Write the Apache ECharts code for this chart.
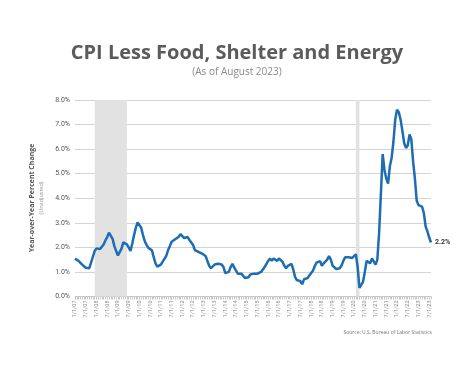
<!DOCTYPE html>
<html>
<head>
<meta charset="utf-8">
<script src="https://cdn.jsdelivr.net/npm/echarts@6/dist/echarts.min.js"></script>
<style>
html,body{margin:0;padding:0;background:#fff;}
#c{width:474px;height:382px;}
</style>
</head>
<body>
<div id="c"></div>
<script>
// Monthly categories Jan 2007 - Aug 2023
const startYear = 2007, startMonth = 1, monthCount = 200;
const categories = [];
for (let k = 0; k < monthCount; k++) {
  const m = (startMonth - 1 + k) % 12 + 1;
  const y = startYear + Math.floor((startMonth - 1 + k) / 12);
  categories.push(m + '/1/' + String(y % 100).padStart(2, '0'));
}

// Year-over-year percent change
const v2007 = [1.54,1.52,1.45,1.38,1.30,1.22,1.17,1.25,1.15,1.18,1.62,1.85];
const v2008 = [1.96,1.93,1.93,1.97,2.12,2.28,2.42,2.60,2.55,2.35,2.05,1.85];
const v2009 = [1.67,1.68,1.95,2.20,2.17,2.12,2.00,1.85,2.15,2.50,2.80,3.02];
const v2010 = [3.00,2.80,2.50,2.25,2.10,1.98,1.92,1.88,1.60,1.35,1.22,1.15];
const v2011 = [1.30,1.42,1.48,1.65,1.88,2.05,2.23,2.27,2.33,2.38,2.43,2.54];
const v2012 = [2.52,2.38,2.35,2.42,2.30,2.23,2.10,1.89,1.83,1.82,1.76,1.75];
const v2013 = [1.78,1.65,1.45,1.25,1.15,1.22,1.30,1.33,1.33,1.32,1.30,1.20];
const v2014 = [0.95,0.87,1.00,1.20,1.33,1.30,1.05,0.93,0.93,0.93,0.92,0.75];
const v2015 = [0.68,0.78,0.90,0.93,0.93,0.93,0.93,0.94,1.00,1.07,1.20,1.33];
const v2016 = [1.45,1.55,1.45,1.55,1.48,1.45,1.55,1.52,1.41,1.25,1.15,1.25];
const v2017 = [1.33,1.33,1.10,0.80,0.67,0.65,0.62,0.50,0.70,0.75,0.75,0.80];
const v2018 = [0.96,1.05,1.23,1.38,1.41,1.44,1.25,1.35,1.41,1.50,1.65,1.50];
const v2019 = [1.26,1.20,1.12,1.07,1.15,1.26,1.45,1.60,1.55,1.60,1.60,1.57];
const v2020 = [1.60,1.72,1.20,0.35,0.31,0.60,1.00,1.45,1.48,1.35,1.55,1.50];
const v2021 = [1.30,1.50,2.60,4.20,5.80,5.15,4.80,4.60,5.30,5.65,6.30,7.20];
const v2022 = [7.60,7.50,7.20,6.75,6.25,6.05,6.15,6.60,6.40,5.50,4.80,3.90];
const v2023 = [3.72,3.68,3.66,3.40,2.85,2.65,2.40,2.20];
const values = [].concat(v2007,v2008,v2009,v2010,v2011,v2012,v2013,v2014,v2015,v2016,v2017,v2018,v2019,v2020,v2021,v2022,v2023);

// Shaded recession periods
const recessions = [['12/1/07','6/1/09'], ['2/1/20','4/1/20']];
const yTicks = [0,1,2,3,4,5,6,7,8];

const chart = echarts.init(document.getElementById('c'), null, {renderer:'canvas'});
chart.setOption({
  animation:false,
  backgroundColor:'#fff',
  grid:{left:75, right:43, top:100, bottom:85.5, containLabel:false},
  xAxis:{
    type:'category', data:categories, boundaryGap:false,
    axisLine:{show:true, lineStyle:{color:'#c8c8c8', width:1}},
    axisTick:{show:true, interval:0, length:3, lineStyle:{color:'#c8c8c8'}},
    axisLabel:{interval:5, rotate:90, fontSize:5.5, color:'#8a8a8a', margin:4, fontFamily:'Roboto'},
    splitLine:{show:false}
  },
  yAxis:{
    type:'value', min:yTicks[0], max:yTicks[yTicks.length-1], interval:1,
    axisLine:{show:false}, axisTick:{show:false},
    axisLabel:{formatter:v=>v.toFixed(1)+'%', fontSize:7, color:'#555', margin:5, fontFamily:'Roboto'},
    splitLine:{lineStyle:{color:'#d4d4d4', width:1}}
  },
  series:[{
    type:'line', data:values, symbol:'none', smooth:false,
    lineStyle:{color:'#1d6cb4', width:2.5},
    endLabel:{show:true, formatter:p=>p.value.toFixed(1)+'%', fontSize:7, fontWeight:'bold', color:'#333', distance:4, fontFamily:'Roboto'},
    markArea:{silent:true, itemStyle:{color:'#e2e2e2'},
      data:recessions.map(r=>[{xAxis:r[0]},{xAxis:r[1]}])},
    z:3
  }],
  graphic:[
    {type:'text', left:'center', top:43, style:{text:'CPI Less Food, Shelter and Energy', font:'bold 20px "Open Sans"', fill:'#5b5b5c'}},
    {type:'text', left:'center', top:67, style:{text:'(As of August 2023)', font:'10px "Open Sans"', fill:'#8a8a8a'}},
    {type:'text', x:32, y:198, rotation:Math.PI/2, style:{text:'Year-over-Year Percent Change', font:'bold 7px "Open Sans"', fill:'#555', align:'center', verticalAlign:'middle'}},
    {type:'text', x:41, y:198, rotation:Math.PI/2, style:{text:'(Unadjusted)', font:'5.5px "Open Sans"', fill:'#999', align:'center', verticalAlign:'middle'}},
    {type:'text', x:432, y:333, style:{text:'Source: U.S. Bureau of Labor Statistics', font:'5px "Open Sans"', fill:'#777', align:'right', verticalAlign:'middle'}}
  ]
});
</script>
</body>
</html>
